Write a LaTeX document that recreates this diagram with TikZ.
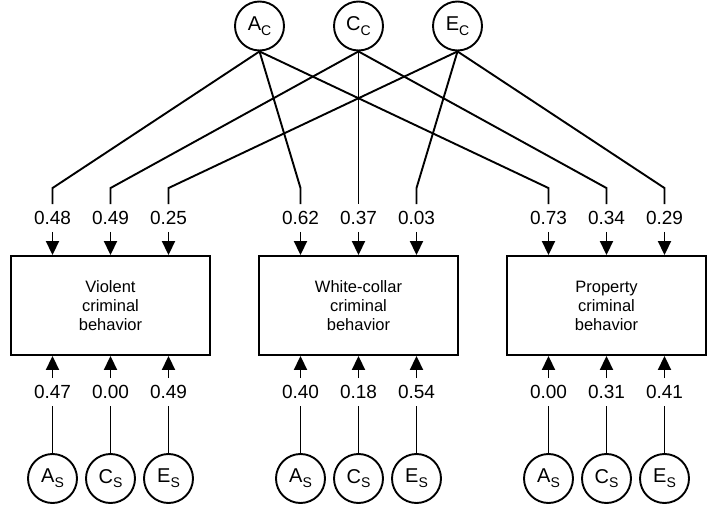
\documentclass[tikz,border=0pt]{standalone}
\usepackage{fontspec}
\setmainfont{Liberation Sans}
\usetikzlibrary{arrows.meta}
\newcommand{\lsub}[2]{#1\raisebox{-0.45ex}{\fontsize{14}{14}\selectfont #2}}

\begin{document}
\begin{tikzpicture}[x=1pt,y=1pt,line width=1.9pt,
  latent/.style={circle,draw,minimum size=49pt,inner sep=0pt,font=\fontsize{20}{20}\selectfont},
  trait/.style={draw,minimum width=199pt,minimum height=99pt,inner sep=0pt,align=center,font=\fontsize{16.5}{19}\selectfont},
  coef/.style={minimum height=26pt,inner sep=0pt,font=\fontsize{19}{19}\selectfont},
  load/.style={-{Triangle[length=14pt,width=13pt]}}]
\useasboundingbox (0,0) rectangle (707,504);
% phenotypes
\node[trait] (vio) at (110.5,198.5) {Violent\\criminal\\behavior};
\node[trait] (wcb) at (358.5,198.5) {White-collar\\criminal\\behavior};
\node[trait] (pro) at (606.5,198.5) {Property\\criminal\\behavior};
% common factors
\node[latent] (AC) at (259.5,478) {\lsub{A}{C}};
\node[latent] (CC) at (358.5,478) {\lsub{C}{C}};
\node[latent] (EC) at (457.5,478) {\lsub{E}{C}};
% specific factors
\node[latent] (vAS) at (52.5,25.5) {\lsub{A}{S}};
\node[latent] (vCS) at (110.5,25.5) {\lsub{C}{S}};
\node[latent] (vES) at (168.5,25.5) {\lsub{E}{S}};
\node[latent] (wAS) at (300.5,25.5) {\lsub{A}{S}};
\node[latent] (wCS) at (358.5,25.5) {\lsub{C}{S}};
\node[latent] (wES) at (416.5,25.5) {\lsub{E}{S}};
\node[latent] (pAS) at (548.5,25.5) {\lsub{A}{S}};
\node[latent] (pCS) at (606.5,25.5) {\lsub{C}{S}};
\node[latent] (pES) at (664.5,25.5) {\lsub{E}{S}};
% loadings, common
\node[coef] (vac) at (52.5,286) {0.48};
\node[coef] (vcc) at (110.5,286) {0.49};
\node[coef] (vec) at (168.5,286) {0.25};
\node[coef] (wac) at (300.5,286) {0.62};
\node[coef] (wcc) at (358.5,286) {0.37};
\node[coef] (wec) at (416.5,286) {0.03};
\node[coef] (pac) at (548.5,286) {0.73};
\node[coef] (pcc) at (606.5,286) {0.34};
\node[coef] (pec) at (664.5,286) {0.29};
% loadings, specific
\node[coef] (vas) at (52.5,112) {0.47};
\node[coef] (vcs) at (110.5,112) {0.00};
\node[coef] (ves) at (168.5,112) {0.49};
\node[coef] (was) at (300.5,112) {0.40};
\node[coef] (wcs) at (358.5,112) {0.18};
\node[coef] (wes) at (416.5,112) {0.54};
\node[coef] (pas) at (548.5,112) {0.00};
\node[coef] (pcs) at (606.5,112) {0.31};
\node[coef] (pes) at (664.5,112) {0.41};
% common paths
\draw (AC.south) -- ([yshift=16pt]vac.north) -- (vac.north);
\draw (AC.south) -- ([yshift=16pt]wac.north) -- (wac.north);
\draw (AC.south) -- ([yshift=16pt]pac.north) -- (pac.north);
\draw (CC.south) -- ([yshift=16pt]vcc.north) -- (vcc.north);
\draw (CC.south) -- (wcc.north);
\draw (CC.south) -- ([yshift=16pt]pcc.north) -- (pcc.north);
\draw (EC.south) -- ([yshift=16pt]vec.north) -- (vec.north);
\draw (EC.south) -- ([yshift=16pt]wec.north) -- (wec.north);
\draw (EC.south) -- ([yshift=16pt]pec.north) -- (pec.north);
\draw[load] (vac.south) -- (vac.south |- vio.north);
\draw[load] (vcc.south) -- (vcc.south |- vio.north);
\draw[load] (vec.south) -- (vec.south |- vio.north);
\draw[load] (wac.south) -- (wac.south |- wcb.north);
\draw[load] (wcc.south) -- (wcc.south |- wcb.north);
\draw[load] (wec.south) -- (wec.south |- wcb.north);
\draw[load] (pac.south) -- (pac.south |- pro.north);
\draw[load] (pcc.south) -- (pcc.south |- pro.north);
\draw[load] (pec.south) -- (pec.south |- pro.north);
% specific paths
\draw (vAS.north) -- (vas.south);
\draw (vCS.north) -- (vcs.south);
\draw (vES.north) -- (ves.south);
\draw (wAS.north) -- (was.south);
\draw (wCS.north) -- (wcs.south);
\draw (wES.north) -- (wes.south);
\draw (pAS.north) -- (pas.south);
\draw (pCS.north) -- (pcs.south);
\draw (pES.north) -- (pes.south);
\draw[load] (vas.north) -- (vas.north |- vio.south);
\draw[load] (vcs.north) -- (vcs.north |- vio.south);
\draw[load] (ves.north) -- (ves.north |- vio.south);
\draw[load] (was.north) -- (was.north |- wcb.south);
\draw[load] (wcs.north) -- (wcs.north |- wcb.south);
\draw[load] (wes.north) -- (wes.north |- wcb.south);
\draw[load] (pas.north) -- (pas.north |- pro.south);
\draw[load] (pcs.north) -- (pcs.north |- pro.south);
\draw[load] (pes.north) -- (pes.north |- pro.south);
\end{tikzpicture}
\end{document}
